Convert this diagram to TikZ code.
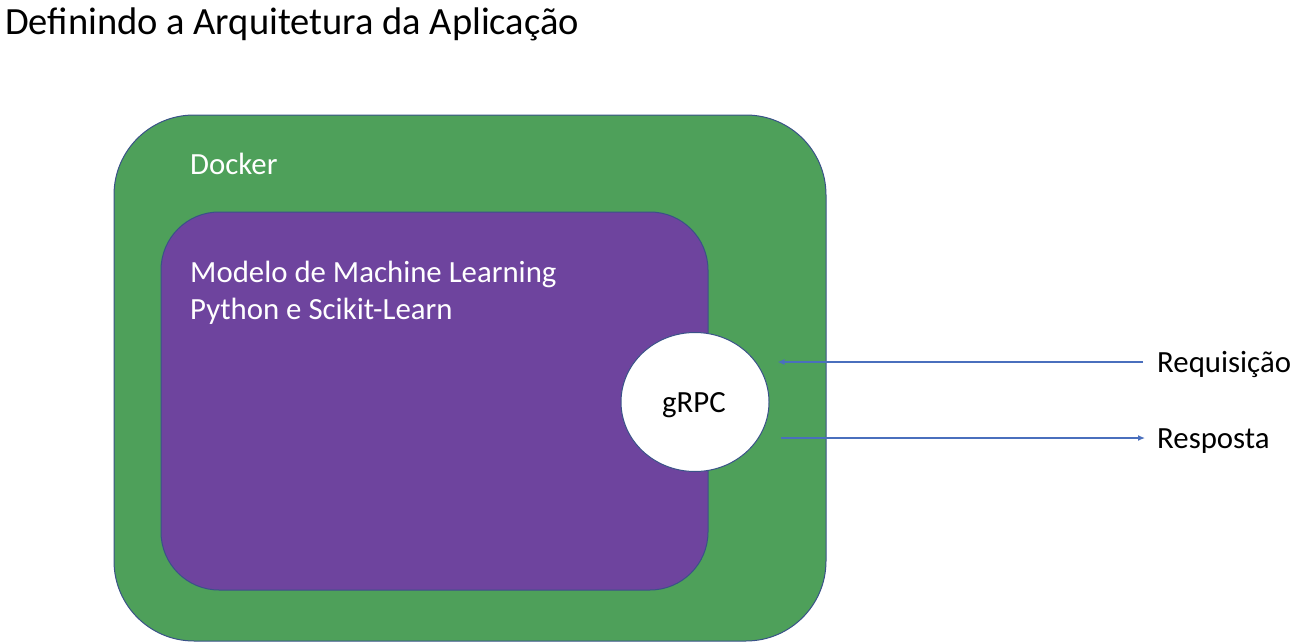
\documentclass[tikz,border=0pt]{standalone}
\usepackage{fontspec}
\setmainfont{Carlito}
\usetikzlibrary{arrows.meta,shapes.geometric}
\definecolor{dgreen}{HTML}{4EA05A}
\definecolor{dpurple}{HTML}{6E449E}
\definecolor{edge}{HTML}{3A5288}
\definecolor{arrblue}{HTML}{4A6FBD}
\tikzset{
  boxshape/.style={draw=edge,line width=1pt},
  whitetxt/.style={text=white,font=\fontsize{30.8}{36}\selectfont,inner sep=0pt,anchor=base west},
  blacktxt/.style={text=black,font=\fontsize{30.8}{36}\selectfont,inner sep=0pt},
  arr/.style={draw=arrblue,line width=1.3pt,-{Latex[length=7pt,width=6pt]}}
}
\begin{document}
\begin{tikzpicture}[x=1pt,y=-1pt]
\useasboundingbox (0,0) rectangle (1299,642);
\fill[white] (0,0) rectangle (1299,642);
\node[blacktxt,anchor=base west,font=\fontsize{38.5}{44}\selectfont] (title) at (5,35) {Definindo a Arquitetura da Aplicação};
\path[boxshape,fill=dgreen,rounded corners=80pt] (114,115) rectangle (826,641);
\node[whitetxt] (docker) at (190,174) {Docker};
\path[boxshape,fill=dpurple,rounded corners=58pt] (161,212) rectangle (708,590);
\node[whitetxt] (modelo) at (190,282) {Modelo de Machine Learning};
\node[whitetxt] (python) at (190,319) {Python e Scikit-Learn};
\node[ellipse,draw=edge,line width=1pt,fill=white,minimum width=148pt,minimum height=139pt,inner sep=0pt] (grpc) at (695,402) {};
\node[blacktxt,anchor=base] (grpctxt) at (694,412) {gRPC};
\node[blacktxt,anchor=west,text height=20pt,text depth=0pt] (req) at (1157,362) {Requisição};
\node[blacktxt,anchor=west,text height=20pt,text depth=0pt] (resp) at (1157,438) {Resposta};
\draw[arr,shorten <=14pt,shorten >=8pt] (req.west) -- (grpc.east |- req.west);
\draw[arr,shorten <=11pt,shorten >=12pt] (grpc.east |- resp.west) -- (resp.west);
\end{tikzpicture}
\end{document}
